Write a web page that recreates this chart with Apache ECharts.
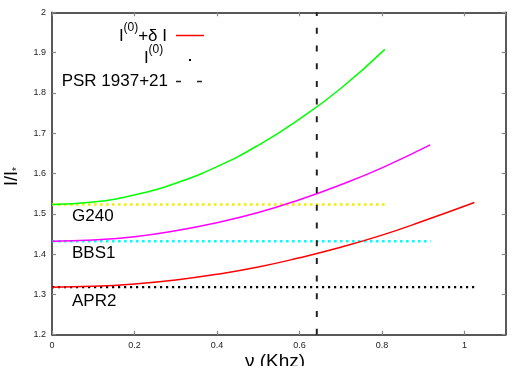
<!DOCTYPE html>
<html>
<head>
<meta charset="utf-8">
<script src="https://cdn.jsdelivr.net/npm/echarts@6/dist/echarts.min.js"></script>
<style>
html,body{margin:0;padding:0;background:#fff;}
#c{width:523px;height:366px;}
</style>
</head>
<body>
<div id="c"></div>
<script>
// ---- data ----
const greenNu = [0, 0.1, 0.2, 0.3, 0.4, 0.5, 0.6, 0.7, 0.807];
const greenI  = [1.523, 1.529, 1.547, 1.576, 1.617, 1.670, 1.735, 1.811, 1.908];
const magentaNu = [0, 0.1, 0.2, 0.3, 0.4, 0.5, 0.6, 0.7, 0.8, 0.917];
const magentaI  = [1.432, 1.435, 1.443, 1.458, 1.478, 1.503, 1.535, 1.572, 1.614, 1.671];
const redNu = [0, 0.1, 0.2, 0.3, 0.4, 0.5, 0.6, 0.7, 0.8, 0.9, 1.024];
const redI  = [1.318, 1.320, 1.326, 1.336, 1.350, 1.368, 1.391, 1.417, 1.447, 1.482, 1.528];
const flatNames = ['G240', 'BBS1', 'APR2'];
const flatLevels = [1.523, 1.432, 1.318];
const flatEnds = [0.811, 0.918, 1.027];
const psrNu = 0.642;
const xTicks = [0, 0.2, 0.4, 0.6, 0.8, 1];
const yTicks = [1.2, 1.3, 1.4, 1.5, 1.6, 1.7, 1.8, 1.9, 2];

const zip = (a, b) => a.map((v, i) => [v, b[i]]);
const font = 'Liberation Sans, Arial, sans-serif';

const chart = echarts.init(document.getElementById('c'), null, {renderer: 'canvas'});

const axisCommon = {
  axisLine: {show: true, onZero: false, lineStyle: {color: '#222', width: 1.5}},
  axisTick: {show: true, inside: true, length: 4, lineStyle: {color: '#888', width: 1.2}},
  splitLine: {show: false}
};

const flatColors = ['#f0f000', '#00ffff', '#000000'];
const flatWidths = [2.6, 2.6, 2.2];

const series = [
  {type: 'line', data: zip(greenNu, greenI), smooth: true, showSymbol: false, lineStyle: {color: '#00ff00', width: 1.5}, z: 3},
  {type: 'line', data: zip(magentaNu, magentaI), smooth: true, showSymbol: false, lineStyle: {color: '#ff00ff', width: 1.5}, z: 3},
  {type: 'line', data: zip(redNu, redI), smooth: true, showSymbol: false, lineStyle: {color: '#ff0000', width: 1.5}, z: 3}
];
flatLevels.forEach((lv, i) => {
  series.push({type: 'line', data: [[0, lv], [flatEnds[i], lv]], showSymbol: false,
    lineStyle: {color: flatColors[i], width: flatWidths[i], type: [flatWidths[i], 6 - flatWidths[i]], cap: 'butt'}, z: 2});
});
series.push({type: 'line', data: [[psrNu, 1.2], [psrNu, 2]], showSymbol: false,
  lineStyle: {color: '#222', width: 2, type: [6, 11.7], cap: 'butt'}, z: 4});

const option = {
  animation: false,
  backgroundColor: '#fff',
  grid: {left: 52, right: 17.3, top: 12.3, bottom: 31.3, containLabel: false},
  xAxis: [
    Object.assign({type: 'value', min: 0, max: 1.1, interval: 0.2, position: 'bottom',
      axisLabel: {color: '#222', fontSize: 9, fontFamily: font, margin: 6, showMaxLabel: false,
        formatter: v => (xTicks.some(t => Math.abs(t - v) < 1e-6) ? String(+v.toFixed(1)) : '')}}, axisCommon),
    Object.assign({type: 'value', min: 0, max: 1.1, interval: 0.2, position: 'top', axisLabel: {show: false}}, axisCommon)
  ],
  yAxis: [
    Object.assign({type: 'value', min: 1.2, max: 2, interval: 0.1, position: 'left',
      axisLabel: {color: '#222', fontSize: 9, fontFamily: font, margin: 6,
        formatter: v => String(+v.toFixed(1))}}, axisCommon),
    Object.assign({type: 'value', min: 1.2, max: 2, interval: 0.1, position: 'right', axisLabel: {show: false}}, axisCommon)
  ],
  series: series,
  graphic: [
    // legend row 1: I^(0)+δ I
    {type: 'text', right: 523 - 167, top: 28, style: {text: '+δ I', font: '17px ' + font, fill: '#000'}},
    {type: 'text', left: 123.5, top: 22, style: {text: '(0)', font: '12px ' + font, fill: '#000'}},
    {type: 'text', left: 119, top: 28, style: {text: 'I', font: '17px ' + font, fill: '#000'}},
    {type: 'line', shape: {x1: 176, y1: 35.5, x2: 204, y2: 35.5}, style: {stroke: '#ff0000', lineWidth: 1.5}},
    // legend row 2: I^(0)
    {type: 'text', left: 144, top: 50, style: {text: 'I', font: '17px ' + font, fill: '#000'}},
    {type: 'text', left: 148.5, top: 44, style: {text: '(0)', font: '12px ' + font, fill: '#000'}},
    {type: 'rect', shape: {x: 189, y: 59, width: 2, height: 2}, style: {fill: '#000'}},
    // legend row 3: PSR
    {type: 'text', right: 523 - 168, top: 73, style: {text: 'PSR 1937+21', font: '17px ' + font, fill: '#000'}},
    {type: 'line', shape: {x1: 176, y1: 81.5, x2: 202, y2: 81.5}, style: {stroke: '#222', lineWidth: 1.5, lineDash: [5, 16]}},
    // star labels
    {type: 'text', left: 72, top: 208, style: {text: flatNames[0], font: '17px ' + font, fill: '#000'}},
    {type: 'text', left: 72, top: 245, style: {text: flatNames[1], font: '17px ' + font, fill: '#000'}},
    {type: 'text', left: 72, top: 293, style: {text: flatNames[2], font: '17px ' + font, fill: '#000'}},
    // axis titles
    {type: 'text', x: 3, y: 186, rotation: Math.PI / 2, originX: 0, originY: 0,
      style: {text: 'I/I{s|*}', font: '18px ' + font, fill: '#000', rich: {s: {fontSize: 10, fontFamily: font, padding: [9, 0, 0, 0]}}}},
    {type: 'text', left: 245, top: 352, style: {text: 'ν (Khz)', font: '19px ' + font, fill: '#000'}}
  ]
};
chart.setOption(option);
</script>
</body>
</html>
